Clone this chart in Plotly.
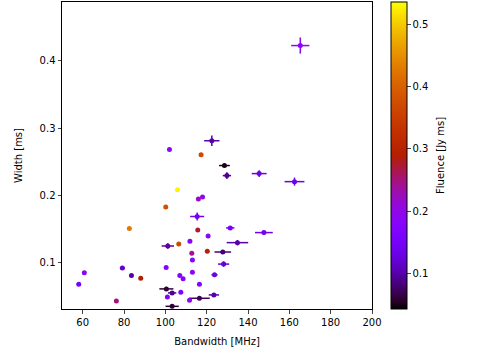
import numpy as np
import plotly.graph_objects as go

# Bandwidth [MHz], width [ms], fluence [Jy ms] and errors for each burst
bandwidth = [165.3, 122.5, 128.6, 129.8, 145.4, 162.5, 115.4, 131.4, 147.7, 134.9,
             101.2, 127.8, 128.2, 123.8, 100.5, 103.3, 123.5, 116.5, 103.3, 79.2,
             83.6, 102.0, 117.3, 105.9, 118.0, 116.0, 100.2, 82.6, 115.7, 120.7,
             106.5, 111.9, 120.3, 112.8, 113.1, 100.4, 60.8, 113.1, 88.1, 107.0,
             108.6, 58.1, 116.5, 107.5, 101.0, 76.3, 111.7]
width = [0.423, 0.281, 0.244, 0.229, 0.232, 0.220, 0.168, 0.151, 0.144, 0.129,
         0.124, 0.115, 0.097, 0.081, 0.060, 0.054, 0.051, 0.046, 0.034, 0.091,
         0.080, 0.268, 0.260, 0.208, 0.197, 0.194, 0.182, 0.150, 0.148, 0.139,
         0.127, 0.131, 0.116, 0.113, 0.103, 0.092, 0.084, 0.085, 0.076, 0.080,
         0.075, 0.067, 0.067, 0.055, 0.048, 0.042, 0.043]
fluence = [0.19, 0.10, 0.05, 0.09, 0.13, 0.13, 0.14, 0.15, 0.14, 0.10,
           0.10, 0.08, 0.12, 0.13, 0.06, 0.09, 0.10, 0.07, 0.06, 0.12,
           0.10, 0.19, 0.37, 0.53, 0.19, 0.22, 0.38, 0.43, 0.27, 0.19,
           0.37, 0.18, 0.30, 0.24, 0.18, 0.17, 0.18, 0.19, 0.29, 0.18,
           0.18, 0.15, 0.17, 0.16, 0.17, 0.25, 0.19]
bw_err = [4.4, 3.7, 2.6, 2.0, 3.6, 4.8, 3.4, 2.0, 4.3, 5.2,
          3.0, 4.0, 2.7, 1.5, 3.4, 2.0, 2.5, 5.0, 3.2, 1.2,
          0, 0, 0, 0, 0, 0, 0, 0, 0, 0,
          0, 0, 0, 0, 0, 0, 0, 0, 0, 0,
          0, 0, 0, 0, 0, 0, 0]
w_err = [0.012, 0.008, 0.002, 0.005, 0.005, 0.006, 0.006, 0.003, 0.003, 0.004,
         0.004, 0.002, 0.004, 0.0, 0.003, 0.0, 0.0, 0.0, 0.0, 0.0,
         0, 0, 0, 0, 0, 0, 0, 0, 0, 0,
         0, 0, 0, 0, 0, 0, 0, 0, 0, 0,
         0, 0, 0, 0, 0, 0, 0]

cmin, cmax = 0.042, 0.537


# matplotlib's "gnuplot" colormap
def gnuplot(t):
    r = np.sqrt(t)
    g = t ** 3
    b = np.clip(np.sin(2 * np.pi * t), 0, 1)
    return 'rgb(%d,%d,%d)' % (r * 255, g * 255, b * 255)


colorscale = [[t, gnuplot(t)] for t in np.linspace(0, 1, 41)]

fig = go.Figure()

# error bars drawn one by one so they take the colour of their point
for x, y, c, ex, ey in zip(bandwidth, width, fluence, bw_err, w_err):
    if ex == 0 and ey == 0:
        continue
    t = min(max((c - cmin) / (cmax - cmin), 0), 1)
    col = gnuplot(t)
    fig.add_trace(go.Scatter(
        x=[x], y=[y], mode='markers', marker=dict(size=1, color=col, opacity=0),
        error_x=dict(type='constant', value=ex, color=col, thickness=1.5, width=0, visible=ex > 0),
        error_y=dict(type='constant', value=ey, color=col, thickness=1.5, width=0, visible=ey > 0),
        showlegend=False, hoverinfo='skip'))

fig.add_trace(go.Scatter(
    x=bandwidth, y=width, mode='markers',
    marker=dict(size=5, color=fluence, colorscale=colorscale, cmin=cmin, cmax=cmax,
                line=dict(width=0),
                colorbar=dict(thickness=16, len=1, x=1.061, xanchor='left', y=0.5,
                              xpad=0, ypad=0,
                              outlinewidth=1, outlinecolor='black',
                              ticks='outside', ticklen=3.5, tickwidth=1,
                              tickvals=[0.1, 0.2, 0.3, 0.4, 0.5],
                              tickfont=dict(size=10, color='black'))),
    showlegend=False))

# colorbar label, placed by hand so it sits where matplotlib puts it
fig.add_annotation(text='Fluence [Jy ms]', textangle=-90, showarrow=False,
                   xref='paper', yref='paper', x=1.245, y=0.5,
                   font=dict(size=10, color='black'))

axis_style = dict(showline=True, linecolor='black', linewidth=1, mirror=True,
                  ticks='outside', ticklen=3.5, tickwidth=1, showgrid=False,
                  zeroline=False, tickfont=dict(size=10, color='black'))

fig.update_xaxes(range=[50, 200], tickvals=[60, 80, 100, 120, 140, 160, 180, 200],
                 title=dict(text='Bandwidth [MHz]', font=dict(size=10, color='black'), standoff=11),
                 **axis_style)
fig.update_yaxes(range=[0.03, 0.488], tickvals=[0.1, 0.2, 0.3, 0.4],
                 title=dict(text='Width [ms]', font=dict(size=10, color='black'), standoff=15),
                 **axis_style)

fig.update_layout(
    width=500, height=353,
    margin=dict(l=62, r=128, t=2, b=44),
    paper_bgcolor='white', plot_bgcolor='white',
    font=dict(family='DejaVu Sans', size=10, color='black'),
)

# the page's default body margin would push the figure 8px in
fig.write_html("out.html", config={'displayModeBar': False},
               post_script="document.body.style.margin='0px';")
